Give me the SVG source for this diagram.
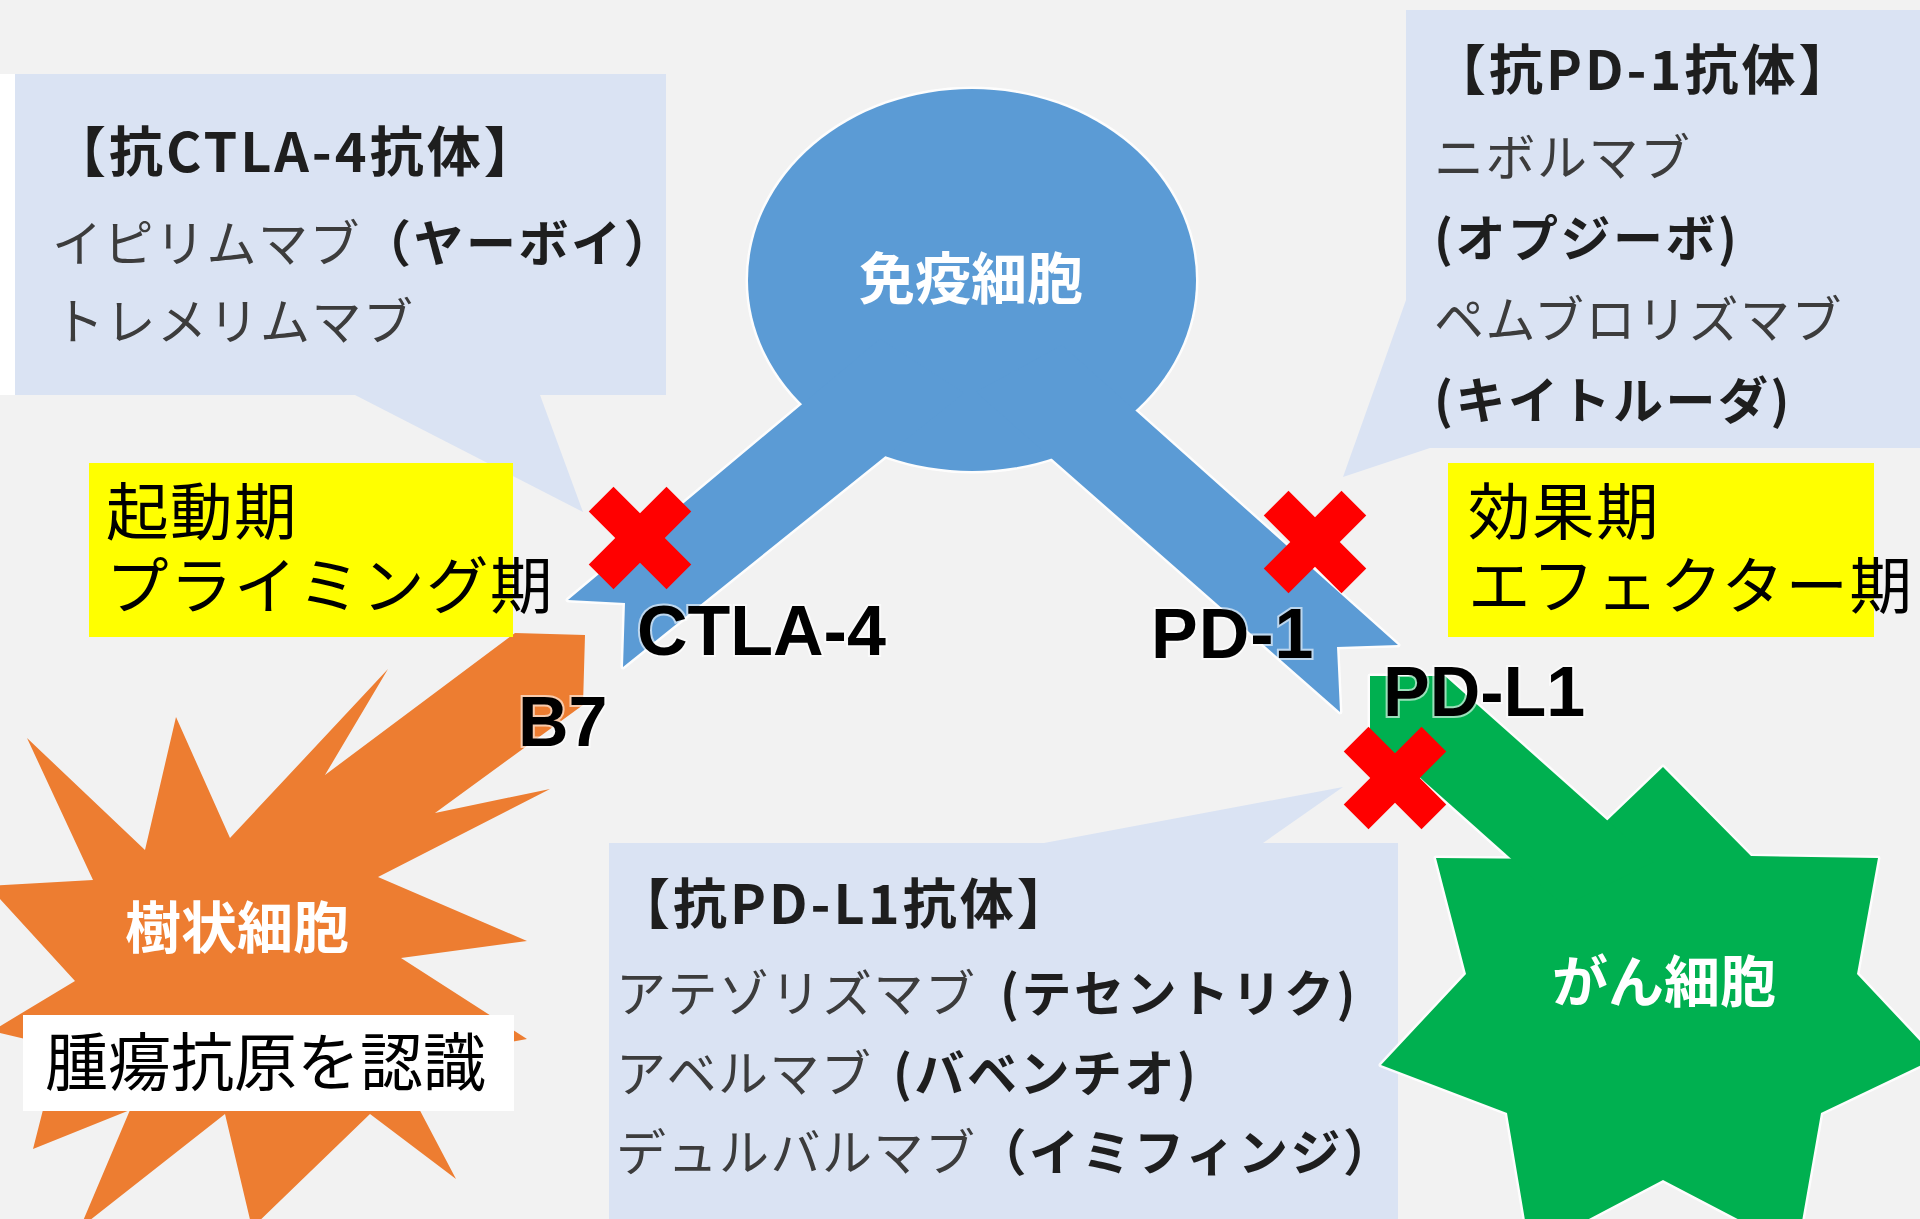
<svg xmlns="http://www.w3.org/2000/svg" xmlns:xlink="http://www.w3.org/1999/xlink" width="1920" height="1219" viewBox="0 0 1920 1219">
  <style>
    .callout { fill: #dae3f3; }
    .jp { font-family: "Noto Sans CJK JP", "Noto Sans", sans-serif; }
    .body { font-size: 50px; fill: #3c3c3c; font-weight: 400; letter-spacing: 1.5px; }
    .head { font-size: 54px; fill: #1e1e1e; font-weight: 700; letter-spacing: 3px; }
    .b { font-weight: 700; fill: #1e1e1e; letter-spacing: 2.5px; }
    .cellname { font-family: "Noto Sans CJK JP", sans-serif; font-size: 56px; font-weight: 700; fill: #ffffff; text-anchor: middle; }
    .mol { font-family: "Liberation Sans", "Noto Sans", sans-serif; font-size: 70px; font-weight: 700; fill: #000000; stroke: #ffffff; stroke-width: 4px; stroke-opacity: 0.6; paint-order: stroke; }
    .phase { font-family: "Noto Sans CJK JP", sans-serif; font-size: 62.5px; fill: #000000; letter-spacing: 1.5px; }
    .halo { fill: #ffffff; stroke: #ffffff; stroke-width: 5px; stroke-linejoin: round; opacity: 0.85; }
    .cross { fill: #ff0000; }
  </style>
  <defs>
    <!-- immune cell: round body with two notched receptor arms -->
    <g id="immune-body">
      <ellipse cx="972" cy="280" rx="224" ry="191"/>
      <polygon points="880,339 568,600 625,603 623,667 964,393"/>
      <polygon points="1062,345 1398,645 1337,647 1340,712 976,392"/>
    </g>
    <!-- cancer cell: seven-point star with a pointed ligand arm -->
    <g id="cancer-body">
      <polygon points="1663,767 1751,856 1878,858 1857,974 1936,1058 1821,1113 1797,1250 1663,1180 1530,1250 1507,1113 1381,1065 1466,974 1436,858 1567,859"/>
      <polygon points="1370,676 1445,676 1654,862 1564,906 1370,733"/>
    </g>
    <!-- heavy X mark -->
    <g id="cross">
      <rect x="-55" y="-17.5" width="110" height="35"/>
      <rect x="-17.5" y="-55" width="35" height="110"/>
    </g>
  </defs>

  <rect x="0" y="0" width="1920" height="1219" fill="#f2f2f2"/>

  <!-- drug callouts -->
  <g id="callout-ctla4">
    <path class="callout" d="M15,74 H666 V395 H540 L583,512 L355,395 H15 Z"/>
    <rect x="0" y="74" width="15" height="321" fill="#ffffff"/>
    <text class="jp head" x="52" y="172">【抗CTLA-4抗体】</text>
    <text class="jp body" x="52" y="262">イピリムマブ<tspan class="b">（ヤーボイ）</tspan></text>
    <text class="jp body" x="54" y="340">トレメリムマブ</text>
  </g>

  <g id="callout-pd1">
    <path class="callout" d="M1406,10 H1920 V448 H1430 L1343,477 L1406,300 Z"/>
    <text class="jp head" x="1432" y="90">【抗PD-1抗体】</text>
    <text class="jp body" x="1434" y="176">ニボルマブ</text>
    <text class="jp body b" x="1434" y="257">(オプジーボ)</text>
    <text class="jp body" x="1434" y="338">ペムブロリズマブ</text>
    <text class="jp body b" x="1434" y="419">(キイトルーダ)</text>
  </g>

  <g id="callout-pdl1">
    <path class="callout" d="M609,843 H1044 L1343,787 L1263,843 H1398 V1219 H609 Z"/>
    <text class="jp head" x="616" y="924">【抗PD-L1抗体】</text>
    <text class="jp body" x="616" y="1012">アテゾリズマブ<tspan class="b" x="1000">(テセントリク)</tspan></text>
    <text class="jp body" x="616" y="1092">アベルマブ<tspan class="b" x="893">(バベンチオ)</tspan></text>
    <text class="jp body" x="616" y="1171">デュルバルマブ<tspan class="b">（イミフィンジ）</tspan></text>
  </g>

  <!-- dendritic cell -->
  <g id="dendritic-cell">
    <polygon fill="#ed7d31" points="515,633 585,635 583,705 435,813 550,789 378,877 527,941 401,958 527,1039 395,1063 456,1179 370,1114 252,1228 225,1114 80,1228 130,1110 33,1149 59,1047 -8,1031 75,981 -12,886 93,880 27,738 145,850 176,717 230,838 388,669 325,775"/>
    <text class="cellname" x="237" y="948">樹状細胞</text>
  </g>

  <!-- immune cell -->
  <g id="immune-cell">
    <use xlink:href="#immune-body" class="halo"/>
    <use xlink:href="#immune-body" fill="#5b9bd5"/>
    <text class="cellname" x="971" y="299">免疫細胞</text>
  </g>

  <!-- cancer cell -->
  <g id="cancer-cell">
    <use xlink:href="#cancer-body" class="halo"/>
    <use xlink:href="#cancer-body" fill="#00b050"/>
    <text class="cellname" x="1664" y="1002">がん細胞</text>
  </g>

  <!-- receptor / ligand labels -->
  <g id="molecule-labels">
    <text class="mol" x="637" y="655">CTLA-4</text>
    <text class="mol" x="518" y="746">B7</text>
    <text class="mol" x="1151" y="658" style="letter-spacing:1px">PD-1</text>
    <text class="mol" x="1383" y="716">PD-L1</text>
  </g>

  <!-- blocked interactions -->
  <g id="connectors" class="cross">
    <use xlink:href="#cross" transform="translate(640,538) rotate(45)"/>
    <use xlink:href="#cross" transform="translate(1315,542) rotate(45)"/>
    <use xlink:href="#cross" transform="translate(1395,778) rotate(45)"/>
  </g>

  <!-- phase labels -->
  <g id="phase-priming">
    <rect x="89" y="463" width="424" height="174" fill="#ffff00"/>
    <text class="phase" x="106" y="535">起動期<tspan x="106" dy="74">プライミング期</tspan></text>
  </g>
  <g id="phase-effector">
    <rect x="1448" y="463" width="426" height="174" fill="#ffff00"/>
    <text class="phase" x="1468" y="535">効果期<tspan x="1468" dy="74">エフェクター期</tspan></text>
  </g>

  <g id="antigen-label">
    <rect x="23" y="1015" width="491" height="96" fill="#ffffff"/>
    <text class="phase" x="45" y="1085" style="font-size:63px;letter-spacing:0">腫瘍抗原を認識</text>
  </g>
</svg>
